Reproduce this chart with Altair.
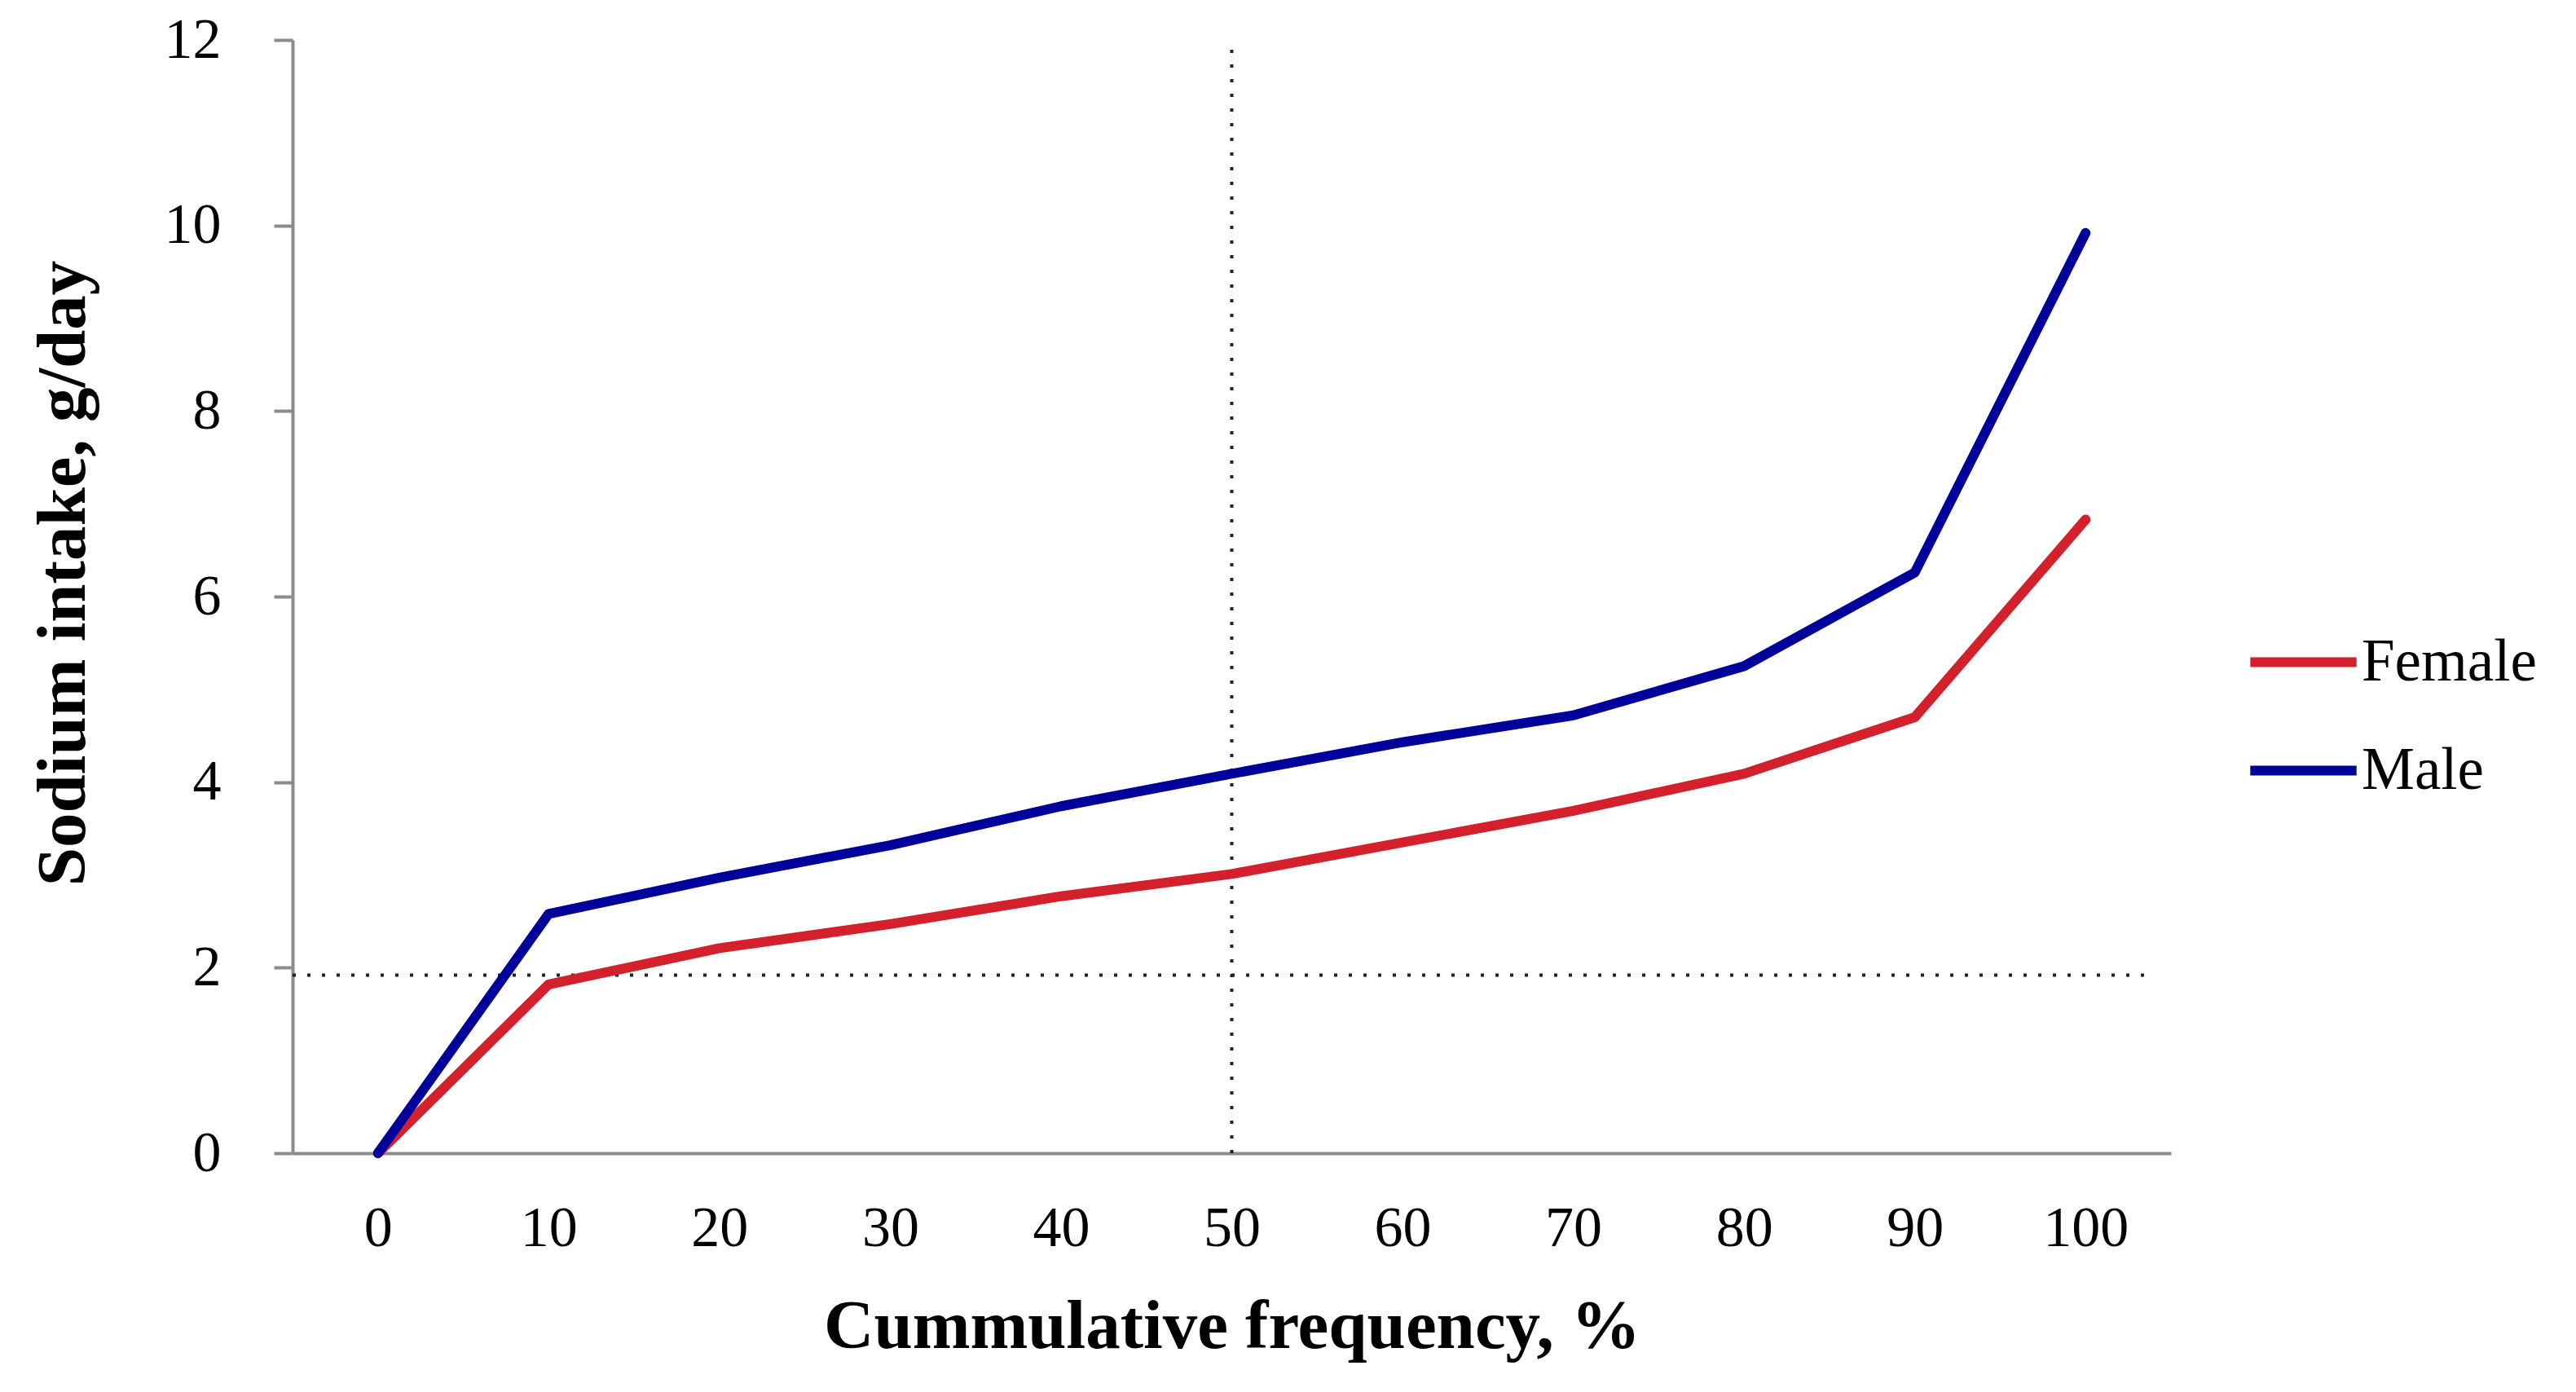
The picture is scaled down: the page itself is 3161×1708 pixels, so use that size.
import altair as alt
import pandas as pd

freq = [0, 10, 20, 30, 40, 50, 60, 70, 80, 90, 100]
female = [0, 1.82, 2.21, 2.47, 2.77, 3.01, 3.35, 3.69, 4.09, 4.70, 6.83]
male = [0, 2.58, 2.97, 3.32, 3.74, 4.09, 4.43, 4.72, 5.25, 6.26, 9.92]
sexes = ["Female", "Male"]
colors = ["#d3202a", "#00009a"]
y_ticks = [0, 2, 4, 6, 8, 10, 12]
x_domain = [-5, 105]
y_domain = [0, 12]
median_freq = [50]
ref_intake = [1.92]
ref_x_span = [-5, 104]

FONT = "Liberation Serif"

df = pd.DataFrame({
    "freq": freq + freq,
    "value": female + male,
    "sex": [sexes[0]] * len(freq) + [sexes[1]] * len(freq),
})

xscale = alt.Scale(domain=x_domain, nice=False, zero=False)
yscale = alt.Scale(domain=y_domain, nice=False)

lines = alt.Chart(df).mark_line(strokeWidth=12, strokeCap="round", strokeJoin="round").encode(
    x=alt.X("freq:Q", scale=xscale,
            axis=alt.Axis(values=freq, format="d", title="Cummulative frequency, %", ticks=False, tickSize=0,
                          labelPadding=58, titlePadding=44, grid=False)),
    y=alt.Y("value:Q", scale=yscale,
            axis=alt.Axis(values=y_ticks, format="d", title="Sodium intake, g/day", tickSize=23,
                          labelPadding=65, titlePadding=80, titleY=654, grid=False)),
    color=alt.Color("sex:N", scale=alt.Scale(domain=sexes, range=colors),
                    legend=alt.Legend(title=None, orient="none", legendX=2396, legendY=692,
                                      symbolType="stroke", symbolStrokeWidth=12, symbolSize=17000,
                                      labelFontSize=73, labelFont=FONT, labelColor="black",
                                      labelLimit=0, labelOffset=0, rowPadding=24, padding=0)),
)

vdf = pd.DataFrame({"x": median_freq, "y0": [y_domain[0]], "y1": [y_domain[1]]})
vrule = alt.Chart(vdf).mark_rule(color="#222222", strokeWidth=4, strokeDash=[4, 14]).encode(
    x=alt.X("x:Q", scale=xscale), y=alt.Y("y0:Q", scale=yscale), y2="y1:Q"
)

hdf = pd.DataFrame({"y": ref_intake, "x0": [ref_x_span[0]], "x1": [ref_x_span[1]]})
hrule = alt.Chart(hdf).mark_rule(color="#222222", strokeWidth=4, strokeDash=[4, 14]).encode(
    y=alt.Y("y:Q", scale=yscale), x=alt.X("x0:Q", scale=xscale), x2="x1:Q"
)

chart = alt.layer(vrule, hrule, lines).properties(
    width=2305, height=1366,
    padding={"left": 27, "top": 6, "right": 5, "bottom": 5},
    background="white",
).configure_view(stroke=None).configure_axis(
    labelFont=FONT, labelFontSize=70, labelColor="black",
    titleFont=FONT, titleFontSize=85, titleFontWeight="bold", titleColor="black",
    domainColor="#8c8c8c", domainWidth=4, tickColor="#8c8c8c", tickWidth=4,
)

chart.save("out.html", embed_options={"renderer": "svg", "actions": False})
